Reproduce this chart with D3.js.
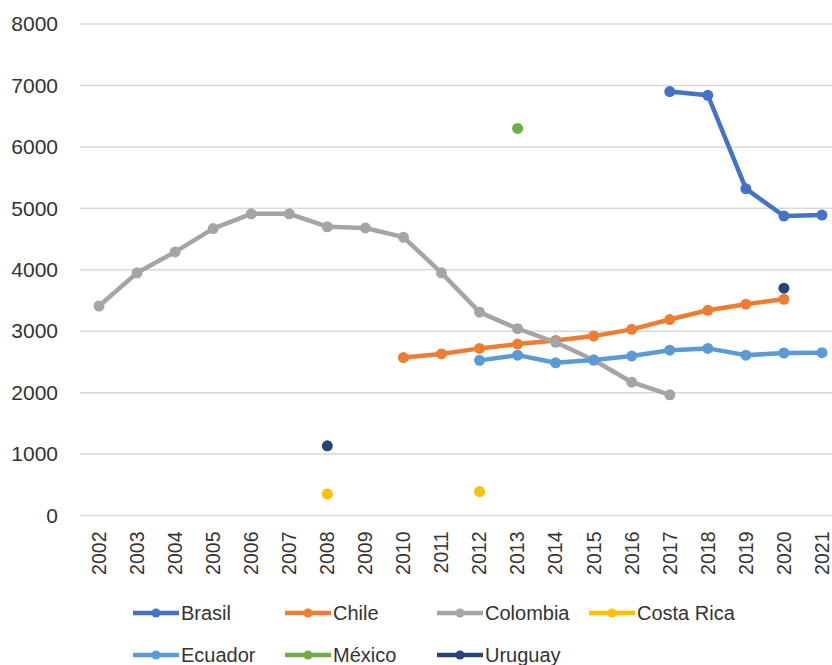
<!DOCTYPE html>
<html>
<head>
<meta charset="utf-8">
<script src="https://cdn.jsdelivr.net/npm/d3@7"></script>
<style>
  body { margin: 0; background: #fff; }
  svg { display: block; font-family: "Liberation Sans", Arial, sans-serif; }
</style>
</head>
<body>
<svg id="chart"></svg>
<script>
const years = [2002, 2003, 2004, 2005, 2006, 2007, 2008, 2009, 2010, 2011,
               2012, 2013, 2014, 2015, 2016, 2017, 2018, 2019, 2020, 2021];

const brasil    = [null, null, null, null, null, null, null, null, null, null,
                   null, null, null, null, null, 6900, 6840, 5320, 4875, 4890];
const chile     = [null, null, null, null, null, null, null, null, 2570, 2630,
                   2720, 2790, 2850, 2920, 3030, 3190, 3340, 3440, 3520, null];
const colombia  = [3410, 3950, 4290, 4670, 4910, 4910, 4700, 4680, 4530, 3950,
                   3310, 3040, 2820, 2530, 2170, 1965, null, null, null, null];
const costaRica = [null, null, null, null, null, null, 350, null, null, null,
                   390, null, null, null, null, null, null, null, null, null];
const ecuador   = [null, null, null, null, null, null, null, null, null, null,
                   2525, 2610, 2485, 2530, 2595, 2690, 2720, 2610, 2645, 2650];
const mexico    = [null, null, null, null, null, null, null, null, null, null,
                   null, 6300, null, null, null, null, null, null, null, null];
const uruguay   = [null, null, null, null, null, null, 1135, null, null, null,
                   null, null, null, null, null, null, null, null, 3700, null];

const yTicks = [0, 1000, 2000, 3000, 4000, 5000, 6000, 7000, 8000];

const series = [
  { name: "Brasil", values: brasil, color: "#4472C4" },
  { name: "Chile", values: chile, color: "#ED7D31" },
  { name: "Colombia", values: colombia, color: "#A5A5A5" },
  { name: "Costa Rica", values: costaRica, color: "#FFC000" },
  { name: "Ecuador", values: ecuador, color: "#5B9BD5" },
  { name: "México", values: mexico, color: "#70AD47" },
  { name: "Uruguay", values: uruguay, color: "#264478" }
];

const width = 832;
const height = 665;
const plot = { left: 80, right: 841, top: 24, bottom: 515.5 };

const svg = d3.select("#chart")
  .attr("width", width)
  .attr("height", height);

const x = d3.scaleBand()
  .domain(years)
  .range([plot.left, plot.right]);

const y = d3.scaleLinear()
  .domain([0, 8000])
  .range([plot.bottom, plot.top]);

// gridlines
svg.append("g")
  .selectAll("line")
  .data(yTicks)
  .enter().append("line")
  .attr("x1", plot.left)
  .attr("x2", plot.right)
  .attr("y1", d => y(d))
  .attr("y2", d => y(d))
  .attr("stroke", "#d9d9d9")
  .attr("stroke-width", 1.5);

// y axis labels
const yAxis = svg.append("g")
  .attr("transform", `translate(${plot.left - 22},0)`)
  .call(d3.axisLeft(y).tickValues(yTicks).tickFormat(d3.format("d")).tickSize(0).tickPadding(0));
yAxis.select(".domain").remove();
yAxis.selectAll("text")
  .attr("font-size", "21px")
  .attr("font-family", "Liberation Sans, Arial, sans-serif")
  .attr("fill", "#333");

// x axis labels
const xAxis = svg.append("g")
  .attr("transform", `translate(0,${plot.bottom})`)
  .call(d3.axisBottom(x).tickSize(0).tickPadding(0));
xAxis.select(".domain").remove();
xAxis.selectAll("text")
  .attr("font-size", "19.5px")
  .attr("font-family", "Liberation Sans, Arial, sans-serif")
  .attr("fill", "#333")
  .attr("transform", "rotate(-90)")
  .attr("x", -16)
  .attr("y", 0)
  .attr("dy", "0.35em")
  .attr("text-anchor", "end");

const line = d3.line()
  .defined(d => d != null)
  .x((d, i) => x(years[i]) + x.bandwidth() / 2)
  .y(d => y(d));

const seriesG = svg.append("g")
  .selectAll("g")
  .data(series)
  .enter().append("g");

seriesG.append("path")
  .attr("d", d => line(d.values))
  .attr("fill", "none")
  .attr("stroke", d => d.color)
  .attr("stroke-width", 4.5)
  .attr("stroke-linejoin", "round")
  .attr("stroke-linecap", "round");

seriesG.each(function(s) {
  d3.select(this).selectAll("circle")
    .data(s.values.map((v, i) => ({ v: v, year: years[i] })).filter(d => d.v != null))
    .enter().append("circle")
    .attr("cx", d => x(d.year) + x.bandwidth() / 2)
    .attr("cy", d => y(d.v))
    .attr("r", 5.5)
    .attr("fill", s.color);
});

// LEGEND
const LEGEND_X = 133;
const LEGEND_Y = 613;
const LEGEND_H_SPACING = 152;
const LEGEND_V_SPACING = 42;
const LEGEND_LINE = 46;
const perRow = 4;

const legendElem = svg.append("g")
  .selectAll("g")
  .data(series)
  .enter().append("g")
  .attr("transform", (d, i) =>
    `translate(${LEGEND_X + (i % perRow) * LEGEND_H_SPACING},${LEGEND_Y + Math.floor(i / perRow) * LEGEND_V_SPACING})`);

legendElem.append("line")
  .attr("x1", 0)
  .attr("x2", LEGEND_LINE)
  .attr("stroke", d => d.color)
  .attr("stroke-width", 4.5);

legendElem.append("circle")
  .attr("cx", LEGEND_LINE / 2)
  .attr("r", 4.5)
  .attr("fill", d => d.color);

legendElem.append("text")
  .attr("x", LEGEND_LINE + 2)
  .attr("dy", "0.35em")
  .attr("font-size", "20px")
  .attr("fill", "#333")
  .text(d => d.name);
</script>
</body>
</html>
